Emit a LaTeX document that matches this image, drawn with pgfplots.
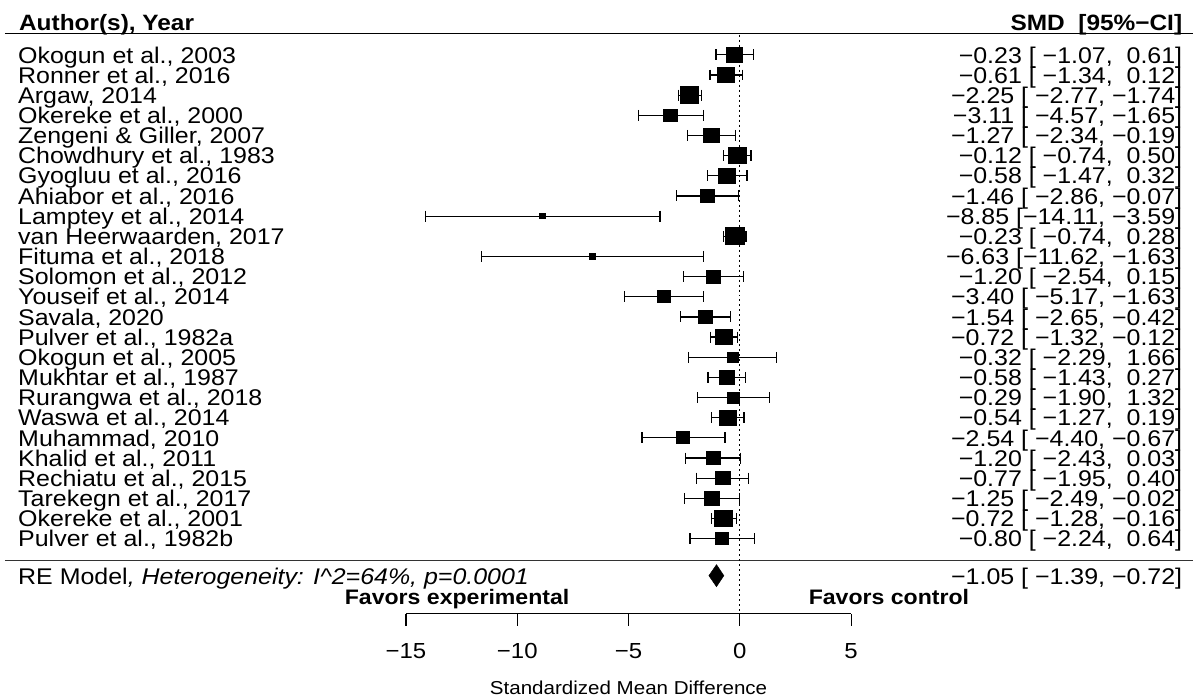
\documentclass[border=0pt]{standalone}
\usepackage{fontspec}
\setmainfont{Liberation Sans}[FakeStretch=1.1]
\usepackage{pgfplots}
\usepackage{pgfplotstable}
\pgfplotsset{compat=1.18}

\pgfplotstableread{
y est lo hi h
25 -0.23 -1.07 0.61 15
24 -0.61 -1.34 0.12 15.3
23 -2.25 -2.77 -1.74 16.5
22 -3.11 -4.57 -1.65 12.5
21 -1.27 -2.34 -0.19 14
20 -0.12 -0.74 0.50 16.5
19 -0.58 -1.47 0.32 15
18 -1.46 -2.86 -0.07 12.5
17 -8.85 -14.11 -3.59 5.5
16 -0.23 -0.74 0.28 17
15 -6.63 -11.62 -1.63 5.5
14 -1.20 -2.54 0.15 13
13 -3.40 -5.17 -1.63 12
12 -1.54 -2.65 -0.42 13.5
11 -0.72 -1.32 -0.12 15.5
10 -0.32 -2.29 1.66 10
9 -0.58 -1.43 0.27 14
8 -0.29 -1.90 1.32 11
7 -0.54 -1.27 0.19 15.5
6 -2.54 -4.40 -0.67 12
5 -1.20 -2.43 0.03 13
4 -0.77 -1.95 0.40 13.5
3 -1.25 -2.49 -0.02 13.5
2 -0.72 -1.28 -0.16 16.5
1 -0.80 -2.24 0.64 12.5
}\studies

\newcommand\rowfont{\fontsize{22.7bp}{24bp}\selectfont}
\newcommand\headfont{\fontsize{22.2bp}{24bp}\selectfont\bfseries}
\newcommand\favfont{\fontsize{21bp}{23bp}\selectfont\bfseries}
\newcommand\tickfont{\fontsize{21.8bp}{23bp}\selectfont}
\newcommand\labfont{\fontsize{18.7bp}{20bp}\selectfont}

\begin{document}
\begin{tikzpicture}[
  lt/.style={anchor=base west, font=\rowfont, inner sep=0pt, yshift=-8.2bp},
  rt/.style={anchor=base east, font=\rowfont, inner sep=0pt, yshift=-8.2bp}]
\begin{axis}[name=main, scale only axis, width=1194bp, height=698bp,
  xmin=-33.24, xmax=20.37, ymin=-6.88, ymax=27.72, hide axis, clip=false]
\path (rel axis cs:0,0) rectangle (rel axis cs:1,1);
% header line and separator
\addplot[black, line width=1.5bp] coordinates {(-33.02,26.07) (20.37,26.07)};
\addplot[black!80, line width=1.3bp] coordinates {(-33.02,-0.066) (20.37,-0.066)};
% reference line
\addplot[black, line width=1.1bp, dash pattern=on 2bp off 3bp] coordinates {(0,26) (0,-2.72)};
% CI lines
\addplot[black, only marks, mark=none,
  error bars/.cd, x dir=both, x explicit, error mark=none,
  error bar style={black, solid, line width=1.2bp}]
  table[x=est, y=y, x error plus expr=\thisrow{hi}-\thisrow{est},
        x error minus expr=\thisrow{est}-\thisrow{lo}] {\studies};
% caps
\addplot[black, only marks, mark=|, mark size=5.5pt, mark options={line width=1.2bp}]
  table[x=lo, y=y] {\studies};
\addplot[black, only marks, mark=|, mark size=5.5pt, mark options={line width=1.2bp}]
  table[x=hi, y=y] {\studies};
% boxes
\addplot[scatter, only marks, mark=square*,
  scatter/use mapped color={draw=black, fill=black},
  mark options={xscale=1.1, line width=0pt},
  visualization depends on={\thisrow{h}/2 \as \ms},
  scatter/@pre marker code/.append style={/tikz/mark size=\ms pt}]
  table[x=est, y=y] {\studies};
% summary diamond
\addplot[black, fill=black, line width=0.5bp] coordinates
  {(-1.39,-0.834) (-1.05,-0.29) (-0.72,-0.834) (-1.05,-1.38)} -- cycle;

% headers
\node[anchor=base west, font=\headfont, inner sep=0pt] at (axis cs:-32.39,26.20) {Author(s), Year};
\node[anchor=base east, font=\headfont, inner sep=0pt] at (axis cs:19.88,26.20) {SMD~~[95\%−CI]};

% study labels
\node[lt] at (axis cs:-32.43,25) {Okogun et al., 2003};
\node[lt] at (axis cs:-32.43,24) {Ronner et al., 2016};
\node[lt] at (axis cs:-32.43,23) {Argaw, 2014};
\node[lt] at (axis cs:-32.43,22) {Okereke et al., 2000};
\node[lt] at (axis cs:-32.43,21) {Zengeni \& Giller, 2007};
\node[lt] at (axis cs:-32.43,20) {Chowdhury et al., 1983};
\node[lt] at (axis cs:-32.43,19) {Gyogluu et al., 2016};
\node[lt] at (axis cs:-32.43,18) {Ahiabor et al., 2016};
\node[lt] at (axis cs:-32.43,17) {Lamptey et al., 2014};
\node[lt] at (axis cs:-32.43,16) {van Heerwaarden, 2017};
\node[lt] at (axis cs:-32.43,15) {Fituma et al., 2018};
\node[lt] at (axis cs:-32.43,14) {Solomon et al., 2012};
\node[lt] at (axis cs:-32.43,13) {Youseif et al., 2014};
\node[lt] at (axis cs:-32.43,12) {Savala, 2020};
\node[lt] at (axis cs:-32.43,11) {Pulver et al., 1982a};
\node[lt] at (axis cs:-32.43,10) {Okogun et al., 2005};
\node[lt] at (axis cs:-32.43,9) {Mukhtar et al., 1987};
\node[lt] at (axis cs:-32.43,8) {Rurangwa et al., 2018};
\node[lt] at (axis cs:-32.43,7) {Waswa et al., 2014};
\node[lt] at (axis cs:-32.43,6) {Muhammad, 2010};
\node[lt] at (axis cs:-32.43,5) {Khalid et al., 2011};
\node[lt] at (axis cs:-32.43,4) {Rechiatu et al., 2015};
\node[lt] at (axis cs:-32.43,3) {Tarekegn et al., 2017};
\node[lt] at (axis cs:-32.43,2) {Okereke et al., 2001};
\node[lt] at (axis cs:-32.43,1) {Pulver et al., 1982b};

% estimates
\node[rt] at (axis cs:19.88,25) {−0.23~[~−1.07,~~0.61]};
\node[rt] at (axis cs:19.88,24) {−0.61~[~−1.34,~~0.12]};
\node[rt] at (axis cs:19.88,23) {−2.25~[~−2.77,~−1.74]};
\node[rt] at (axis cs:19.88,22) {−3.11~[~−4.57,~−1.65]};
\node[rt] at (axis cs:19.88,21) {−1.27~[~−2.34,~−0.19]};
\node[rt] at (axis cs:19.88,20) {−0.12~[~−0.74,~~0.50]};
\node[rt] at (axis cs:19.88,19) {−0.58~[~−1.47,~~0.32]};
\node[rt] at (axis cs:19.88,18) {−1.46~[~−2.86,~−0.07]};
\node[rt] at (axis cs:19.88,17) {−8.85~[−14.11,~−3.59]};
\node[rt] at (axis cs:19.88,16) {−0.23~[~−0.74,~~0.28]};
\node[rt] at (axis cs:19.88,15) {−6.63~[−11.62,~−1.63]};
\node[rt] at (axis cs:19.88,14) {−1.20~[~−2.54,~~0.15]};
\node[rt] at (axis cs:19.88,13) {−3.40~[~−5.17,~−1.63]};
\node[rt] at (axis cs:19.88,12) {−1.54~[~−2.65,~−0.42]};
\node[rt] at (axis cs:19.88,11) {−0.72~[~−1.32,~−0.12]};
\node[rt] at (axis cs:19.88,10) {−0.32~[~−2.29,~~1.66]};
\node[rt] at (axis cs:19.88,9) {−0.58~[~−1.43,~~0.27]};
\node[rt] at (axis cs:19.88,8) {−0.29~[~−1.90,~~1.32]};
\node[rt] at (axis cs:19.88,7) {−0.54~[~−1.27,~~0.19]};
\node[rt] at (axis cs:19.88,6) {−2.54~[~−4.40,~−0.67]};
\node[rt] at (axis cs:19.88,5) {−1.20~[~−2.43,~~0.03]};
\node[rt] at (axis cs:19.88,4) {−0.77~[~−1.95,~~0.40]};
\node[rt] at (axis cs:19.88,3) {−1.25~[~−2.49,~−0.02]};
\node[rt] at (axis cs:19.88,2) {−0.72~[~−1.28,~−0.16]};
\node[rt] at (axis cs:19.88,1) {−0.80~[~−2.24,~~0.64]};

% summary row
\node[lt, yshift=-1bp] at (axis cs:-32.43,-0.834) {RE Model\textit{, Heterogeneity: I\textasciicircum 2=64\%, p=0.0001}};
\node[rt, yshift=-1bp] at (axis cs:19.88,-0.834) {−1.05~[~−1.39,~−0.72]};

% favours labels
\node[anchor=base east, font=\favfont, inner sep=0pt, yshift=-7.5bp] at (axis cs:-7.65,-1.91) {Favors experimental};
\node[anchor=base east, font=\favfont, inner sep=0pt, yshift=-7.5bp] at (axis cs:10.31,-1.91) {Favors control};

\coordinate (O) at (axis cs:-15,-2.72);
\end{axis}

\begin{axis}[at={(O)}, anchor=south west, scale only axis,
  width=445.4bp, height=20bp, xmin=-15, xmax=5, ymin=0, ymax=1,
  axis x line*=bottom, axis y line=none,
  x axis line style={-, line width=1.2bp, black},
  xtick={-15,-10,-5,0,5}, xticklabels={−15,−10,−5,0,5},
  tick align=outside, major tick length=12bp,
  tick style={line width=1.2bp, black},
  xticklabel style={font=\tickfont, anchor=center, yshift=-25.7bp},
  xlabel={Standardized Mean Difference},
  xlabel style={font=\labfont, at={(axis description cs:0.5,0)}, anchor=center, yshift=-74bp}]
\end{axis}
\end{tikzpicture}
\end{document}
